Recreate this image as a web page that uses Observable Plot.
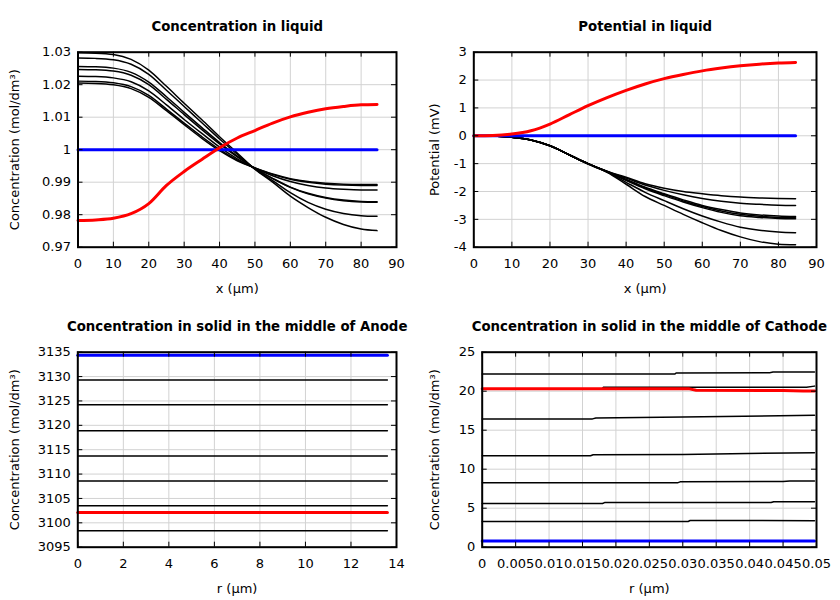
<!DOCTYPE html>
<html><head><meta charset="utf-8">
<script src="https://cdn.jsdelivr.net/npm/d3@7"></script>
<script src="https://cdn.jsdelivr.net/npm/@observablehq/plot@0.6"></script>
<style>
body{margin:0;background:#fff;}
#chart{position:relative;width:840px;height:600px;background:#fff;}
#chart svg{position:absolute;}
</style></head><body><div id="chart"></div>
<script>
// ---------- Concentration in liquid ----------
const xLiquid = [0,5,10,15,20,25,30,35,40,45,50,55,60,65,70,75,80,84.5];
const concLiquidBlack = [
  [1.0298,1.0297,1.0293,1.0278,1.0245,1.0195,1.0143,1.0092,1.0040,0.9990,0.9940,0.9900,0.9857,0.9822,0.9792,0.9770,0.9756,0.9751],
  [1.0282,1.0281,1.0277,1.0263,1.0232,1.0183,1.0133,1.0083,1.0033,0.9986,0.9940,0.9905,0.9868,0.9838,0.9817,0.9804,0.9797,0.9795],
  [1.0256,1.0255,1.0251,1.0238,1.0208,1.0163,1.0115,1.0068,1.0022,0.9980,0.9942,0.9912,0.9885,0.9866,0.9853,0.9845,0.9841,0.9840],
  [1.0247,1.0246,1.0242,1.0229,1.0200,1.0155,1.0108,1.0062,1.0018,0.9978,0.9942,0.9911,0.9884,0.9864,0.9851,0.9843,0.9839,0.9838],
  [1.0226,1.0225,1.0221,1.0209,1.0181,1.0138,1.0093,1.0050,1.0008,0.9972,0.9943,0.9920,0.9902,0.9890,0.9882,0.9878,0.9876,0.9876],
  [1.0211,1.0210,1.0206,1.0194,1.0167,1.0125,1.0082,1.0040,1.0001,0.9968,0.9944,0.9924,0.9909,0.9900,0.9894,0.9891,0.9890,0.9890],
  [1.0205,1.0204,1.0200,1.0188,1.0161,1.0120,1.0077,1.0035,0.9997,0.9966,0.9944,0.9925,0.9911,0.9902,0.9897,0.9894,0.9893,0.9893]
];
const concLiquidRed  = [0.9782,0.9784,0.9789,0.9803,0.9834,0.9890,0.9933,0.9970,1.0006,1.0036,1.0059,1.0082,1.0101,1.0115,1.0126,1.0133,1.0138,1.0139];
const concLiquidBlue = [1,1,1,1,1,1,1,1,1,1,1,1,1,1,1,1,1,1];

// ---------- Potential in liquid ----------
const potLiquidBlack = [
  [0,-0.01,-0.05,-0.15,-0.36,-0.68,-1.00,-1.27,-1.49,-1.72,-1.88,-2.00,-2.08,-2.15,-2.20,-2.23,-2.25,-2.26],
  [0,-0.01,-0.05,-0.15,-0.36,-0.68,-1.00,-1.28,-1.52,-1.77,-1.96,-2.12,-2.25,-2.35,-2.42,-2.46,-2.49,-2.50],
  [0,-0.01,-0.05,-0.15,-0.36,-0.68,-1.00,-1.28,-1.57,-1.85,-2.08,-2.30,-2.50,-2.65,-2.77,-2.84,-2.88,-2.90],
  [0,-0.01,-0.05,-0.15,-0.36,-0.68,-1.00,-1.29,-1.58,-1.87,-2.11,-2.34,-2.54,-2.70,-2.82,-2.89,-2.93,-2.94],
  [0,-0.01,-0.05,-0.15,-0.36,-0.68,-1.00,-1.29,-1.60,-1.90,-2.15,-2.38,-2.58,-2.75,-2.87,-2.93,-2.97,-2.98],
  [0,-0.01,-0.05,-0.15,-0.36,-0.68,-1.01,-1.30,-1.67,-2.03,-2.33,-2.62,-2.88,-3.10,-3.28,-3.39,-3.45,-3.48],
  [0,-0.01,-0.05,-0.15,-0.36,-0.68,-1.02,-1.31,-1.74,-2.18,-2.50,-2.82,-3.12,-3.40,-3.63,-3.80,-3.89,-3.91]
];
const potLiquidRed  = [0,0.01,0.06,0.18,0.42,0.75,1.08,1.37,1.63,1.86,2.05,2.20,2.33,2.43,2.51,2.57,2.61,2.63];
const potLiquidBlue = [0,0,0,0,0,0,0,0,0,0,0,0,0,0,0,0,0,0];

// ---------- Concentration in solid, Anode ----------
const rAnode = [0, 13.6];
const anodeBlackLevels = [3129.3, 3124.2, 3118.9, 3113.7, 3108.6, 3103.5, 3098.4];
const anodeRedLevel = 3102.1;
const anodeBlueLevel = 3134.4;

// ---------- Concentration in solid, Cathode ([r, c] pairs) ----------
const cathodeBlack = [
  [[0,22.2],[0.0288,22.2],[0.029,22.33],[0.043,22.38],[0.0435,22.45],[0.0497,22.45]],
  [[0,20.25],[0.0179,20.25],[0.0181,20.5],[0.0485,20.5],[0.0497,20.65]],
  [[0,16.45],[0.0165,16.45],[0.017,16.57],[0.03,16.68],[0.0497,16.92]],
  [[0,11.72],[0.0162,11.72],[0.0166,11.85],[0.03,11.9],[0.0497,12.12]],
  [[0,8.25],[0.0292,8.25],[0.0296,8.38],[0.045,8.42],[0.046,8.5],[0.0497,8.5]],
  [[0,5.6],[0.018,5.6],[0.0183,5.72],[0.0432,5.72],[0.0436,5.83],[0.0497,5.83]],
  [[0,3.3],[0.0308,3.3],[0.0311,3.42],[0.0497,3.4]]
];
const cathodeRed  = [[0,20.3],[0.031,20.3],[0.032,20.12],[0.045,20.1],[0.048,20.02],[0.0497,20.04]];
const cathodeBlue = [[0,0.8],[0.0497,0.8]];

// ---------- Ticks ----------
const ticksX90 = [0,10,20,30,40,50,60,70,80,90];
const ticksYConc = [0.97,0.98,0.99,1,1.01,1.02,1.03];
const ticksYPot = [-4,-3,-2,-1,0,1,2,3];
const ticksX14 = [0,2,4,6,8,10,12,14];
const ticksYAnode = [3095,3100,3105,3110,3115,3120,3125,3130,3135];
const ticksXCath = [0,0.005,0.01,0.015,0.02,0.025,0.03,0.035,0.04,0.045,0.05];
const ticksYCath = [0,5,10,15,20,25];

// ---------- helpers ----------
const W = 420, H = 300, MT = 51.7, MB = 53.3, MR = 24;
const fmt = d => String(+(+d).toFixed(4));
const tidy = (xs, rows) => rows.flatMap((ys, k) => xs.map((x, i) => ({x, y: ys[i], k})));
const tidyPairs = rows => rows.flatMap((pts, k) => pts.map(([x, y]) => ({x, y, k})));

function panel({left, top, ml, xDomain, yDomain, xTicks, yTicks, title, xLabel, yLabel, marks}) {
  const iw = W - ml - MR, ih = H - MT - MB;
  const svg = Plot.plot({
    width: W, height: H, marginLeft: ml, marginRight: MR, marginTop: MT, marginBottom: MB,
    style: {fontFamily: "'DejaVu Sans', sans-serif", fontSize: "13px", color: "black", background: "transparent", overflow: "visible"},
    x: {domain: xDomain},
    y: {domain: yDomain},
    marks: [
      Plot.gridX(xTicks, {stroke: "#d2d2d2", strokeOpacity: 1}),
      Plot.gridY(yTicks, {stroke: "#d2d2d2", strokeOpacity: 1}),
      ...marks,
      Plot.tickX(xTicks, {x: d => d, insetTop: ih - 5, stroke: "black"}),
      Plot.tickX(xTicks, {x: d => d, insetBottom: ih - 5, stroke: "black"}),
      Plot.tickY(yTicks, {y: d => d, insetRight: iw - 5, stroke: "black"}),
      Plot.tickY(yTicks, {y: d => d, insetLeft: iw - 5, stroke: "black"}),
      Plot.frame({stroke: "black", strokeWidth: 2}),
      Plot.axisX(xTicks, {tickSize: 0, tickPadding: 12, tickFormat: fmt, label: null, fontSize: 13}),
      Plot.axisY(yTicks, {tickSize: 0, tickPadding: 7, tickFormat: fmt, label: null, fontSize: 13}),
      Plot.text([title], {text: d => d, frameAnchor: "top", textAnchor: "middle", lineAnchor: "middle", dy: -25, fontWeight: "bold", fontSize: 13.3}),
      Plot.text([xLabel], {text: d => d, frameAnchor: "bottom", textAnchor: "middle", lineAnchor: "middle", dy: 42, fontSize: 13}),
      Plot.text([yLabel], {text: d => d, frameAnchor: "left", textAnchor: "middle", lineAnchor: "middle", dx: 14 - ml, rotate: -90, fontSize: 13})
    ]
  });
  svg.style.left = left + "px";
  svg.style.top = top + "px";
  document.getElementById("chart").appendChild(svg);
}

// Top-left
panel({
  left: 0, top: 0, ml: 77.5,
  xDomain: [0, 90], yDomain: [0.97, 1.03], xTicks: ticksX90, yTicks: ticksYConc,
  title: "Concentration in liquid", xLabel: "x (µm)", yLabel: "Concentration (mol/dm³)",
  marks: [
    Plot.line(tidy(xLiquid, concLiquidBlack), {x: "x", y: "y", z: "k", stroke: "black", strokeWidth: 1.5, curve: "monotone-x"}),
    Plot.line(tidy(xLiquid, [concLiquidBlue]), {x: "x", y: "y", stroke: "#0000ff", strokeWidth: 3}),
    Plot.line(tidy(xLiquid, [concLiquidRed]), {x: "x", y: "y", stroke: "#ff0000", strokeWidth: 3, curve: "monotone-x"})
  ]
});

// Top-right
panel({
  left: 420, top: 0, ml: 53.3,
  xDomain: [0, 90], yDomain: [-4, 3], xTicks: ticksX90, yTicks: ticksYPot,
  title: "Potential in liquid", xLabel: "x (µm)", yLabel: "Potential (mV)",
  marks: [
    Plot.line(tidy(xLiquid, potLiquidBlack), {x: "x", y: "y", z: "k", stroke: "black", strokeWidth: 1.5, curve: "monotone-x"}),
    Plot.line(tidy(xLiquid, [potLiquidBlue]), {x: "x", y: "y", stroke: "#0000ff", strokeWidth: 3}),
    Plot.line(tidy(xLiquid, [potLiquidRed]), {x: "x", y: "y", stroke: "#ff0000", strokeWidth: 3, curve: "monotone-x"})
  ]
});

// Bottom-left
panel({
  left: 0, top: 300, ml: 77.3,
  xDomain: [0, 14], yDomain: [3095, 3135], xTicks: ticksX14, yTicks: ticksYAnode,
  title: "Concentration in solid in the middle of Anode", xLabel: "r (µm)", yLabel: "Concentration (mol/dm³)",
  marks: [
    Plot.line(tidy(rAnode, anodeBlackLevels.map(v => rAnode.map(() => v))), {x: "x", y: "y", z: "k", stroke: "black", strokeWidth: 1.5}),
    Plot.line(tidy(rAnode, [rAnode.map(() => anodeBlueLevel)]), {x: "x", y: "y", stroke: "#0000ff", strokeWidth: 3}),
    Plot.line(tidy(rAnode, [rAnode.map(() => anodeRedLevel)]), {x: "x", y: "y", stroke: "#ff0000", strokeWidth: 3})
  ]
});

// Bottom-right
panel({
  left: 420, top: 300, ml: 61.7,
  xDomain: [0, 0.05], yDomain: [0, 25], xTicks: ticksXCath, yTicks: ticksYCath,
  title: "Concentration in solid in the middle of Cathode", xLabel: "r (µm)", yLabel: "Concentration (mol/dm³)",
  marks: [
    Plot.line(tidyPairs(cathodeBlack), {x: "x", y: "y", z: "k", stroke: "black", strokeWidth: 1.5}),
    Plot.line(tidyPairs([cathodeBlue]), {x: "x", y: "y", stroke: "#0000ff", strokeWidth: 3}),
    Plot.line(tidyPairs([cathodeRed]), {x: "x", y: "y", stroke: "#ff0000", strokeWidth: 3})
  ]
});
</script>
</body></html>
